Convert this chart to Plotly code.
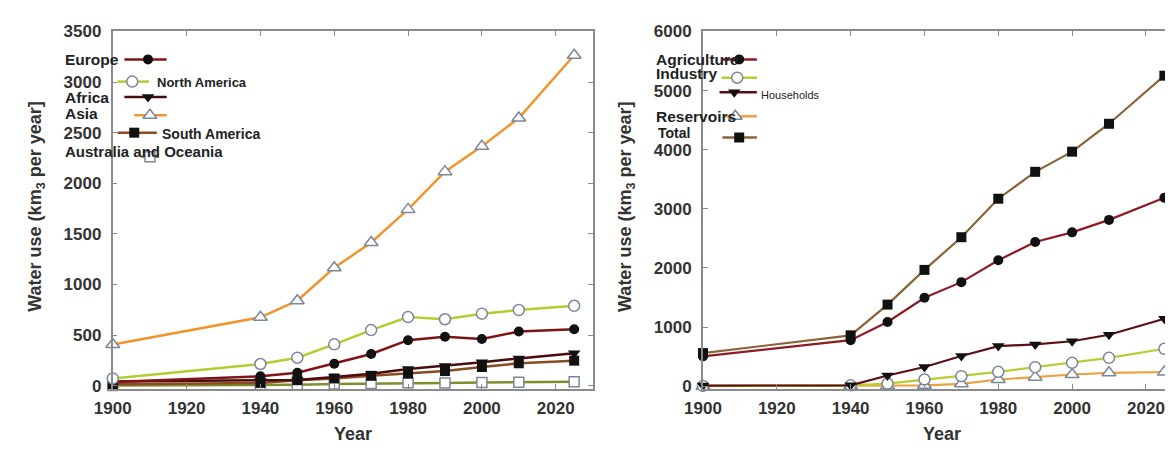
import plotly.graph_objects as go

# page is 1173x452; the html body has an 8px margin, so the figure is placed at (8, 8)
PAGE_W, PAGE_H = 1173, 452
OFF = 8
W, H = PAGE_W - OFF, PAGE_H - OFF

# ---------------- data ----------------
years = [1900, 1940, 1950, 1960, 1970, 1980, 1990, 2000, 2010, 2025]

# left panel: by continent (km3 per year)
europe = [38, 93, 128, 218, 314, 450, 484, 462, 536, 558]
north_america = [72, 215, 277, 409, 550, 678, 657, 712, 748, 790]
africa = [41, 50, 58, 86, 118, 165, 196, 232, 270, 322]
asia = [408, 676, 840, 1165, 1415, 1742, 2115, 2365, 2645, 3265]
south_america = [15, 28, 55, 72, 98, 120, 145, 185, 222, 248]
australia_oceania = [2, 7, 10, 17, 23, 29, 28, 32, 35, 39]

# right panel: by sector (km3 per year)
agriculture = [505, 778, 1087, 1496, 1760, 2130, 2439, 2602, 2813, 3187]
industry = [5, 15, 45, 113, 170, 243, 322, 395, 480, 633]
households = [10, 15, 180, 325, 510, 678, 706, 760, 870, 1140]
reservoirs = [0, 3, 5, 15, 40, 113, 153, 198, 226, 240]
total = [560, 860, 1380, 1967, 2520, 3171, 3626, 3967, 4439, 5252]

x_ticks = [1900, 1920, 1940, 1960, 1980, 2000, 2020]
left_y_ticks = [0, 500, 1000, 1500, 2000, 2500, 3000, 3500]
right_y_ticks = [0, 1000, 2000, 3000, 4000, 5000, 6000]

y_title = "Water use (km<sub>3</sub> per year]"
x_title = "Year"

# ---------------- styles ----------------
FONT = "Liberation Sans"
OPEN_EDGE = "#7a8799"
BLACK = "#111111"


def filled(symbol, line, size=10):
    return dict(line=line, symbol=symbol, fill=BLACK, edge=BLACK, ew=0, size=size)


def hollow(symbol, line, size=11):
    return dict(line=line, symbol=symbol, fill="white", edge=OPEN_EDGE, ew=1.5, size=size)


left_series = [
    ("Australia and Oceania", australia_oceania, hollow("square", "#7d8f2c", 10)),
    ("South America", south_america, filled("square", "#8b4a22", 10)),
    ("Africa", africa, filled("triangle-down", "#4a0d0d", 11)),
    ("Europe", europe, filled("circle", "#7f1416", 10)),
    ("North America", north_america, hollow("circle", "#b5cc2e", 11)),
    ("Asia", asia, hollow("triangle-up", "#ef9530", 12)),
]

right_series = [
    ("Reservoirs", reservoirs, hollow("triangle-up", "#f0a040", 12)),
    ("Industry", industry, hollow("circle", "#b8cc34", 11)),
    ("Households", households, filled("triangle-down", "#5c0f12", 11)),
    ("Agriculture", agriculture, filled("circle", "#8e1b24", 10)),
    ("Total", total, filled("square", "#8a6436", 10)),
]

# legend layout (page pixel positions): key line x0, x1, marker x, y
left_keys = {
    "Europe": (107, 150, 131, 52),
    "North America": (100, 132, 115, 75),
    "Africa": (107, 150, 131, 91),
    "Asia": (117, 150, 133, 110),
    "South America": (100, 140, 117, 128),
    "Australia and Oceania": (124, 142, 133, 153),
}
left_texts = {
    "Europe": (45, 52, 15.5, "bold"),
    "North America": (138, 76, 13, "bold"),
    "Africa": (45, 91, 15.5, "bold"),
    "Asia": (45, 108, 15.5, "bold"),
    "South America": (143, 129, 14, "bold"),
    "Australia and Oceania": (45, 148, 15, "bold"),
}
right_keys = {
    "Agriculture": (715, 750, 732, 52),
    "Industry": (714, 750, 730, 71),
    "Households": (712, 750, 727, 86),
    "Reservoirs": (715, 750, 728, 111),
    "Total": (715, 750, 732, 133),
}
right_texts = {
    "Agriculture": (645, 52, 15.5, "bold"),
    "Industry": (645, 67, 15.5, "bold"),
    "Households": (752, 89, 11, "normal"),
    "Reservoirs": (645, 111, 15.5, "bold"),
    "Total": (647, 128, 14, "bold"),
}


def pxp(x):  # page x -> paper x
    return (x - OFF) / W


def pyp(y):  # page y -> paper y
    return 1 - (y - OFF) / H


fig = go.Figure()


def marker_of(st):
    return dict(symbol=st["symbol"], size=st["size"], color=st["fill"],
                line=dict(color=st["edge"], width=st["ew"]))


def add_series(name, values, st, xa, ya, width):
    fig.add_trace(go.Scatter(
        x=years, y=values, name=name, mode="lines+markers",
        line=dict(color=st["line"], width=width),
        marker=marker_of(st), xaxis=xa, yaxis=ya,
        cliponaxis=False, showlegend=False, hoverinfo="x+y+name"))


def add_key(key, st, width):
    x0, x1, xm, yk = key
    fig.add_trace(go.Scatter(x=[x0, x1], y=[yk, yk], mode="lines",
                             line=dict(color=st["line"], width=width),
                             xaxis="x3", yaxis="y3", cliponaxis=False,
                             showlegend=False, hoverinfo="skip"))
    fig.add_trace(go.Scatter(x=[xm], y=[yk], mode="markers", marker=marker_of(st),
                             xaxis="x3", yaxis="y3", cliponaxis=False,
                             showlegend=False, hoverinfo="skip"))


for name, vals, st in left_series:
    add_series(name, vals, st, "x", "y", 2.5)
for name, vals, st in right_series:
    add_series(name, vals, st, "x2", "y2", 2.2)

for name, vals, st in left_series:
    add_key(left_keys[name], st, 2.5)
for name, vals, st in right_series:
    add_key(right_keys[name], st, 2.5)

annotations = []


def text(x, y, s, size, weight="bold", anchor="left", angle=0, color="#222222"):
    annotations.append(dict(
        x=pxp(x), y=pyp(y), xref="paper", yref="paper", text=s, showarrow=False,
        xanchor=anchor, yanchor="middle", textangle=angle,
        font=dict(family=FONT, size=size, color=color, weight=weight)))


for name, (tx, ty, sz, wt) in left_texts.items():
    text(tx, ty, name, sz, wt)
for name, (tx, ty, sz, wt) in right_texts.items():
    text(tx, ty, name, sz, wt)

# axis titles
text(18, 205, y_title, 18, anchor="center", angle=-90, color="#333333")
text(618, 205, y_title, 18, anchor="center", angle=-90, color="#333333")
text(339, 441, x_title, 18, anchor="center", color="#333333")
text(938, 441, x_title, 18, anchor="center", color="#333333")

PX_PER_YEAR = (583 - 95) / 130.0
tickfont = dict(family=FONT, size=17, color="#333333", weight="bold")
common_axis = dict(showgrid=False, zeroline=False, showline=True, linecolor="#8a8a8a",
                   linewidth=1.5, ticks="inside", ticklen=5, tickcolor="#8a8a8a",
                   tickwidth=1, tickfont=tickfont)

y_dom = [pyp(394), pyp(23)]

fig.update_layout(
    width=W, height=H, margin=dict(l=0, r=0, t=0, b=0),
    paper_bgcolor="white", plot_bgcolor="rgba(0,0,0,0)", showlegend=False,
    xaxis=dict(domain=[pxp(95), pxp(583)], range=[1899.95, 2030], tickvals=x_ticks,
               mirror="ticks", anchor="y", ticklabelstandoff=3, **common_axis),
    yaxis=dict(domain=y_dom, range=[-33, 3500], tickvals=left_y_ticks,
               mirror="ticks", anchor="x", ticklabelstandoff=6, **common_axis),
    xaxis2=dict(domain=[pxp(695), 1.0],
                range=[1899.95, 1900 + (PAGE_W - 695) / PX_PER_YEAR],
                tickvals=x_ticks, mirror="ticks", anchor="y2", ticklabelstandoff=3,
                **common_axis),
    yaxis2=dict(domain=y_dom, range=[-49, 6000], tickvals=right_y_ticks,
                mirror=False, anchor="x2", ticklabelstandoff=6, **common_axis),
    xaxis3=dict(domain=[0, 1], range=[OFF, PAGE_W], visible=False, anchor="y3",
                fixedrange=True),
    yaxis3=dict(domain=[0, 1], range=[PAGE_H, OFF], visible=False, anchor="x3",
                fixedrange=True),
    annotations=annotations,
)

fig.write_html("out.html")
